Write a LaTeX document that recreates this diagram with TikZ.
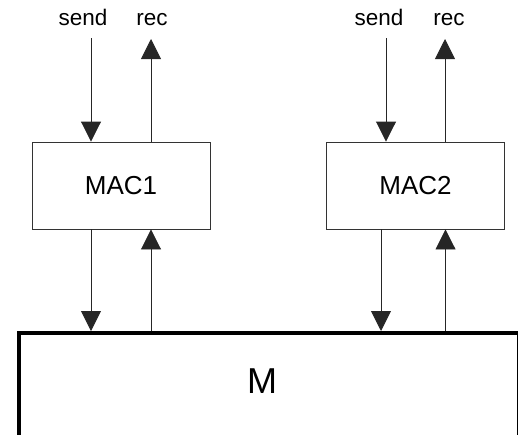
\documentclass[tikz,border=0pt]{standalone}
\usepackage{fontspec}
\setmainfont{Liberation Sans}
\usetikzlibrary{arrows.meta}
\begin{document}
\begin{tikzpicture}[x=1pt,y=-1pt,
  macbox/.style={draw=black!80,line width=0.9pt,minimum width=178pt,minimum height=87pt,inner sep=0pt,
    font=\fontsize{26}{30}\selectfont},
  membox/.style={draw=black,line width=3.6pt,minimum width=500pt,minimum height=150pt,inner sep=0pt},
  lbl/.style={anchor=base,inner sep=0pt,font=\fontsize{22.5}{26}\selectfont},
  flow/.style={draw=black!85,line width=0.9pt,-{Triangle[width=20pt,length=20pt]}}]
\useasboundingbox (0,0) rectangle (518,434);
% the two MAC units
\node[macbox] (mac1) at (121,185.5) {MAC1};
\node[macbox] (mac2) at (415.5,185.5) {MAC2};
% shared block M, its lower edge runs past the page
\node[membox,anchor=north west] (m) at (17,331) {};
\node[font=\fontsize{36}{40}\selectfont,inner sep=0pt] (mlabel) at (262,381) {M};
% interface labels
\node[lbl] (send1) at (83,25) {send};
\node[lbl] (rec1) at (152,25) {rec};
\node[lbl] (send2) at (379,25) {send};
\node[lbl] (rec2) at (449,25) {rec};
% free ends of the top connectors
\coordinate (s1) at (91,38);
\coordinate (r1) at (151,39);
\coordinate (s2) at (386,38);
\coordinate (r2) at (445,39);
% horizontal positions of the lower connectors
\coordinate (d1) at (91,0);
\coordinate (u1) at (151,0);
\coordinate (d2) at (381,0);
\coordinate (u2) at (445.5,0);
% top connectors
\draw[flow] (s1) -- (s1 |- mac1.north);
\draw[flow] (r1 |- mac1.north) -- (r1);
\draw[flow] (s2) -- (s2 |- mac2.north);
\draw[flow] (r2 |- mac2.north) -- (r2);
% connectors between the MAC units and M
\draw[flow] (d1 |- mac1.south) -- (d1 |- m.north);
\draw[flow] (u1 |- m.north) -- (u1 |- mac1.south);
\draw[flow] (d2 |- mac2.south) -- (d2 |- m.north);
\draw[flow] (u2 |- m.north) -- (u2 |- mac2.south);
\end{tikzpicture}
\end{document}
